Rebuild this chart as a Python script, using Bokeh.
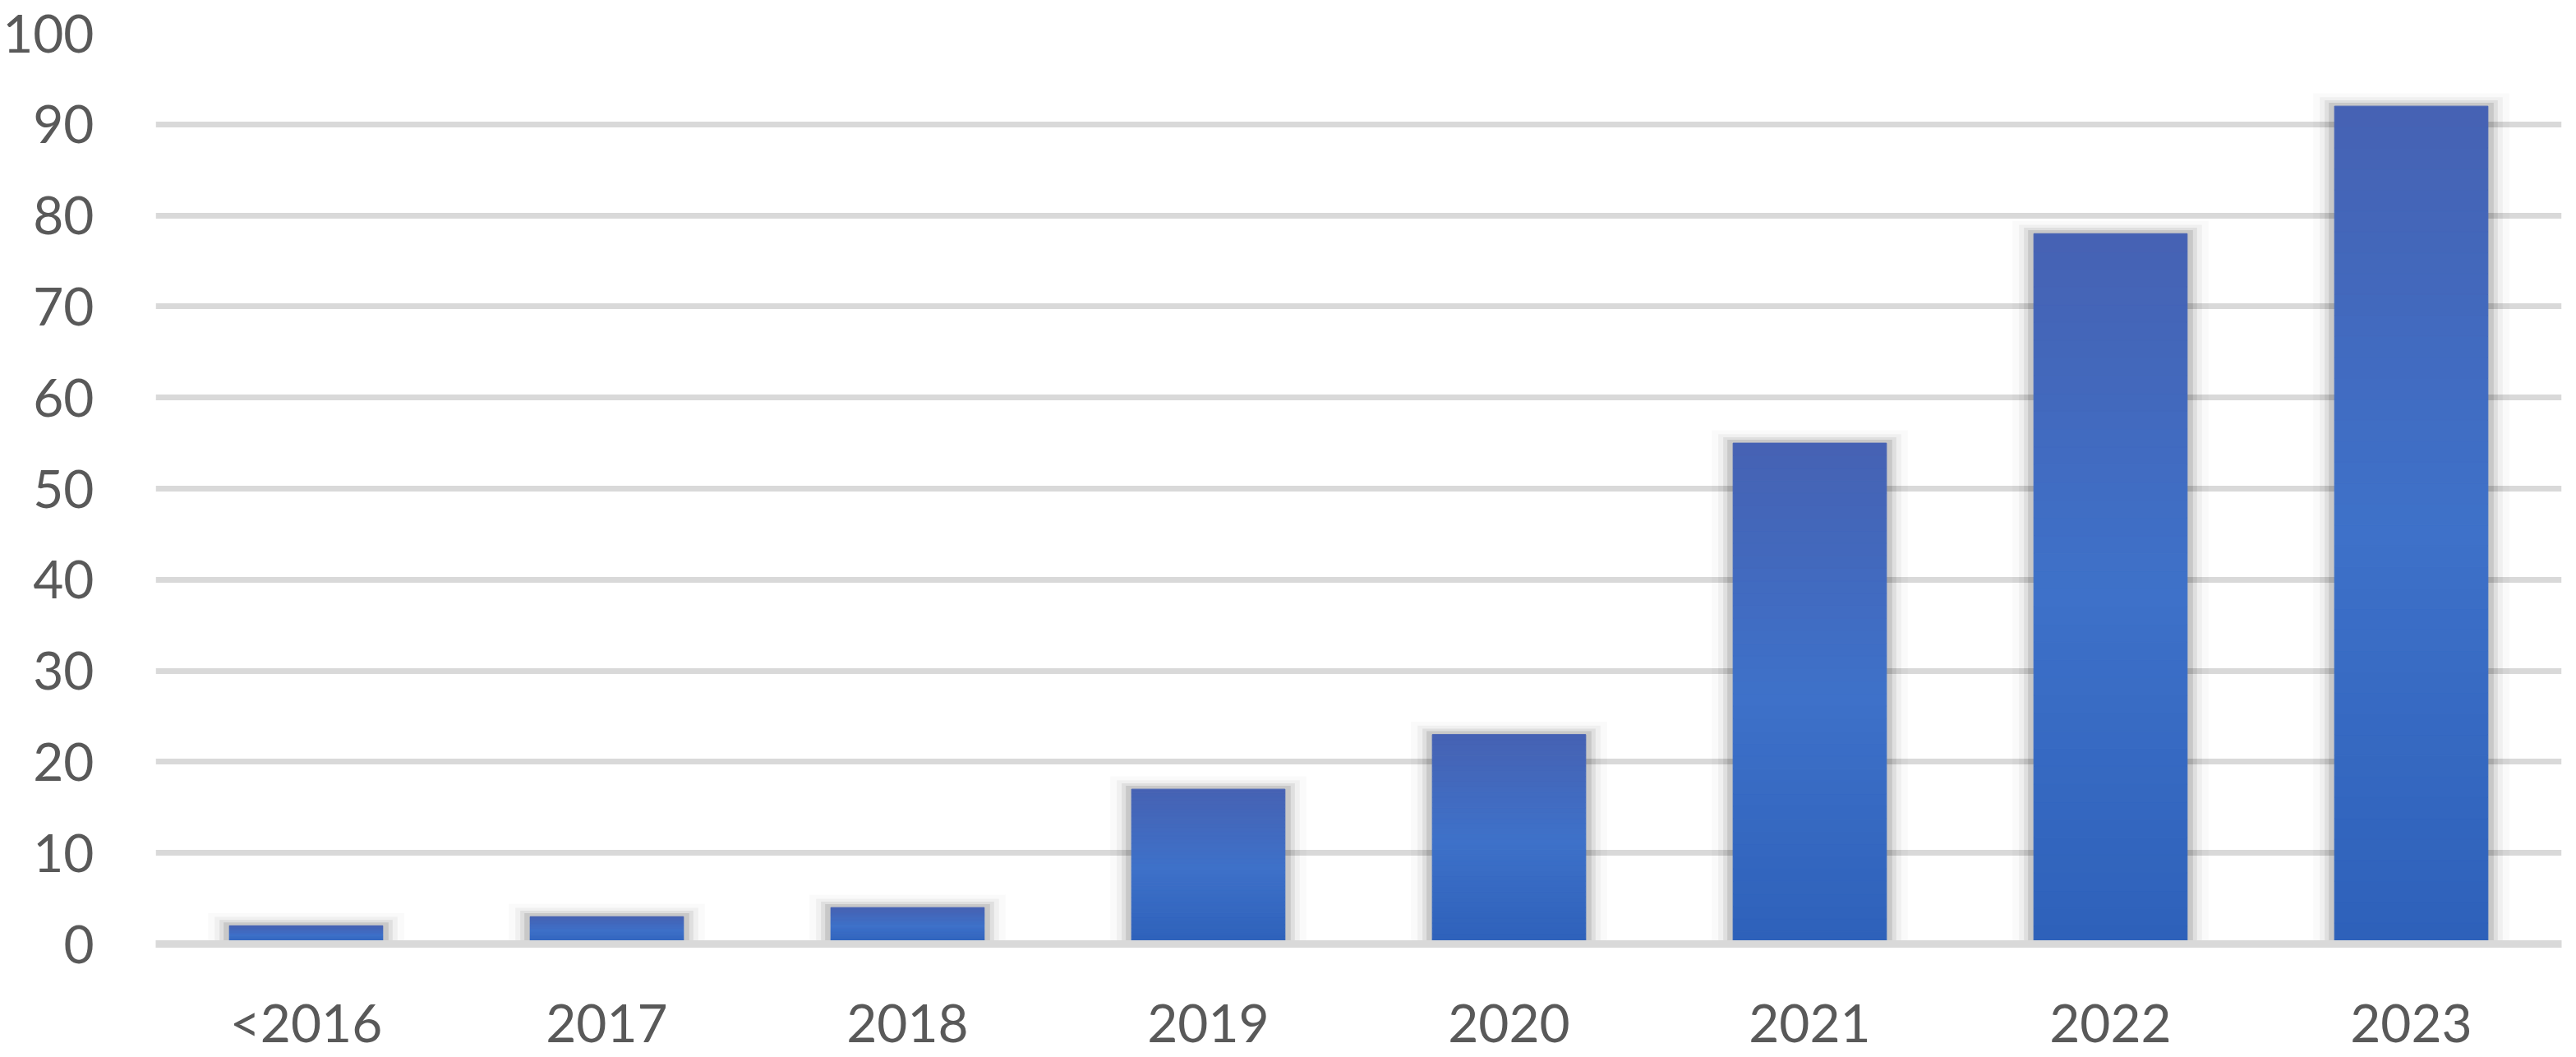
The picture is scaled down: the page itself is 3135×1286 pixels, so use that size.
from bokeh.plotting import figure
from bokeh.models import FixedTicker, Range1d, ColumnDataSource
from bokeh.embed import file_html
from bokeh.resources import INLINE

categories = ["<2016", "2017", "2018", "2019", "2020", "2021", "2022", "2023"]
values = [2, 3, 4, 17, 23, 55, 78, 92]
y_ticks = [0, 10, 20, 30, 40, 50, 60, 70, 80, 90, 100]

FRAME_W, FRAME_H = 2928, 1108
BAR_W = 0.51
px_x = 1.0 / (FRAME_W / len(categories))   # data units per pixel (x)
px_y = 100.0 / FRAME_H                       # data units per pixel (y)

p = figure(x_range=categories, y_range=Range1d(0, 100),
           frame_width=FRAME_W, frame_height=FRAME_H,
           min_border_left=184, min_border_right=7,
           min_border_top=40, min_border_bottom=122,
           output_backend="svg", toolbar_location=None, tools="")
p.outline_line_color = None
p.background_fill_color = "white"
p.border_fill_color = "white"

# grid
p.xgrid.grid_line_color = None
p.ygrid.grid_line_color = "#D9D9D9"
p.ygrid.grid_line_width = 7
p.yaxis.ticker = FixedTicker(ticks=y_ticks)

# axes
font = "Lato"
for ax in (p.xaxis, p.yaxis):
    ax.major_tick_line_color = None
    ax.minor_tick_line_color = None
    ax.major_label_text_font = font
    ax.major_label_text_font_size = "64px"
    ax.major_label_text_color = "#595959"
p.yaxis.axis_line_color = None
p.yaxis.major_label_standoff = 69
p.xaxis.axis_line_color = "#D9D9D9"
p.xaxis.axis_line_width = 9
p.xaxis.major_label_standoff = 50

# soft shadow halo around bars
for extra, alpha in [(26, 0.02), (18, 0.04), (12, 0.07), (7, 0.10)]:
    src = ColumnDataSource(dict(x=categories, top=[v + extra * 0.6 * px_y for v in values]))
    p.vbar(x="x", top="top", bottom=-extra * 0.4 * px_y, width=BAR_W + 2 * extra * px_x,
           source=src, fill_color="black", fill_alpha=alpha, line_color=None)

# gradient bars built from stacked slices
def lerp(c1, c2, t):
    return "#%02x%02x%02x" % tuple(round(a + (b - a) * t) for a, b in zip(c1, c2))

top_c = (0x46, 0x62, 0xB3)
mid_c = (0x3E, 0x71, 0xC9)
bot_c = (0x2E, 0x61, 0xBA)
N = 40
xs, bots, tops, cols = [], [], [], []
for c, v in zip(categories, values):
    for i in range(N):
        f = (i + 0.5) / N  # 0 at bottom, 1 at top
        if f < 0.5:
            col = lerp(bot_c, mid_c, f / 0.5)
        else:
            col = lerp(mid_c, top_c, (f - 0.5) / 0.5)
        xs.append(c)
        bots.append(v * i / N)
        tops.append(v * (i + 1) / N)
        cols.append(col)
src = ColumnDataSource(dict(x=xs, bottom=bots, top=tops, color=cols))
p.vbar(x="x", bottom="bottom", top="top", width=BAR_W, source=src,
       fill_color="color", line_color="color", line_width=1)

open("out.html", "w").write(file_html(p, INLINE))
